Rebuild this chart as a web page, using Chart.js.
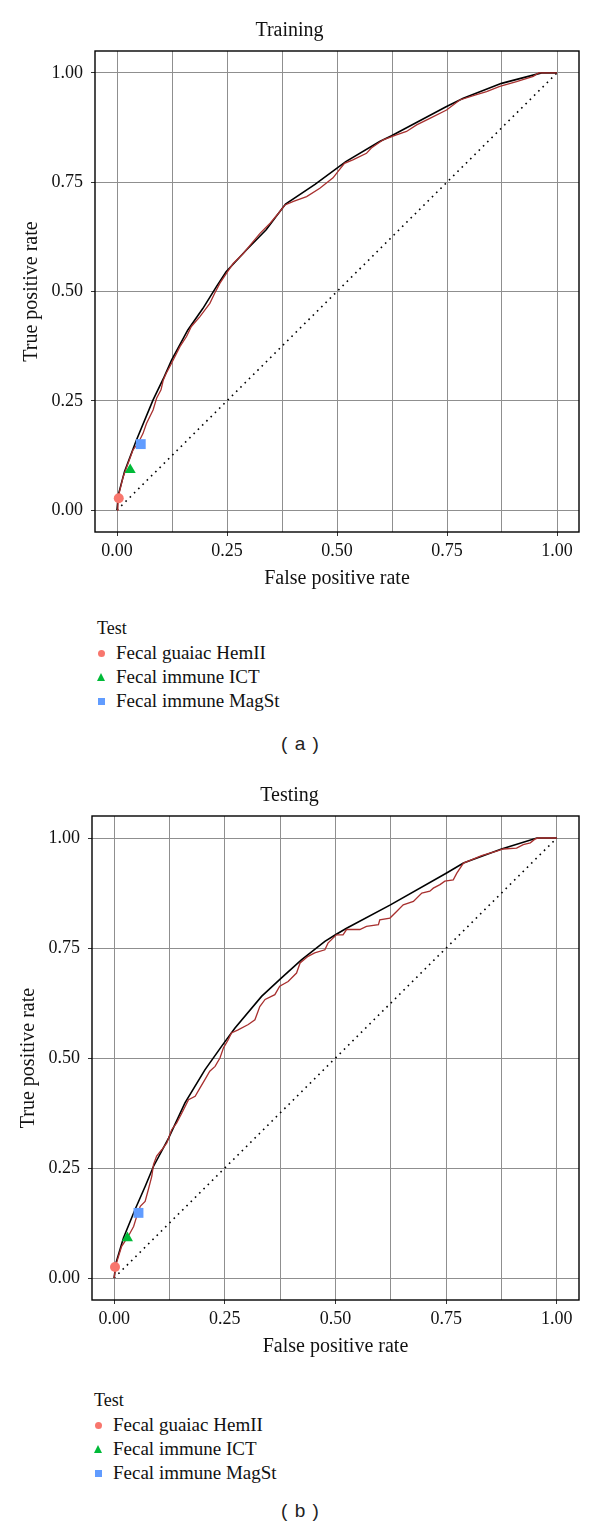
<!DOCTYPE html>
<html>
<head>
<meta charset="utf-8">
<script src="https://cdn.jsdelivr.net/npm/chart.js@4.4.1/dist/chart.umd.min.js"></script>
<style>
body{margin:0;background:#fff;width:600px;height:1538px;position:relative;overflow:hidden;font-family:"Liberation Serif",serif;color:#111;}
canvas{position:absolute;left:0;}
#chrtTrain{top:0;}
#chrtTest{top:765px;}
.legend{position:absolute;}
.legend .ttl{height:26px;line-height:26px;font-size:18px;margin-left:3px;}
.legend .row{display:flex;align-items:center;height:24px;line-height:24px;font-size:19px;}
.legend .sym{width:14px;margin-right:8px;display:flex;justify-content:center;align-items:center;}
.dot{width:7px;height:7px;border-radius:50%;background:#F8766D;}
.tri{width:0;height:0;border-left:4.5px solid transparent;border-right:4.5px solid transparent;border-bottom:8px solid #00BA38;}
.sq{width:7px;height:7px;background:#619CFF;}
.cap{position:absolute;left:0;width:600px;text-align:center;font-family:"Liberation Sans",sans-serif;font-size:19px;color:#222;word-spacing:2px;}
</style>
</head>
<body>
<canvas id="chrtTrain" width="600" height="600"></canvas>
<canvas id="chrtTest" width="600" height="603"></canvas>

<div class="legend" style="left:94px;top:615px">
  <div class="ttl">Test</div>
  <div class="row"><span class="sym"><i class="dot"></i></span><span>Fecal guaiac HemII</span></div>
  <div class="row"><span class="sym"><i class="tri"></i></span><span>Fecal immune ICT</span></div>
  <div class="row"><span class="sym"><i class="sq"></i></span><span>Fecal immune MagSt</span></div>
</div>
<div class="cap" style="top:733px">( a )</div>

<div class="legend" style="left:91px;top:1387px">
  <div class="ttl">Test</div>
  <div class="row"><span class="sym"><i class="dot"></i></span><span>Fecal guaiac HemII</span></div>
  <div class="row"><span class="sym"><i class="tri"></i></span><span>Fecal immune ICT</span></div>
  <div class="row"><span class="sym"><i class="sq"></i></span><span>Fecal immune MagSt</span></div>
</div>
<div class="cap" style="top:1500px">( b )</div>

<script>
// tick values
var xTicks = [0, 0.125, 0.25, 0.375, 0.5, 0.625, 0.75, 0.875, 1];
var yTicks = [0, 0.25, 0.5, 0.75, 1];

// test names
var testNames = ["Fecal guaiac HemII", "Fecal immune ICT", "Fecal immune MagSt"];

// Training - fitted curve (black)
var trainFitFpr = [0, 0.003, 0.017, 0.044, 0.082, 0.105, 0.124, 0.161, 0.195, 0.226, 0.248, 0.294, 0.339, 0.383, 0.45, 0.52, 0.597, 0.624, 0.749, 0.787, 0.874, 0.965, 1];
var trainFitTpr = [0, 0.035, 0.088, 0.16, 0.252, 0.30, 0.343, 0.412, 0.461, 0.511, 0.545, 0.595, 0.641, 0.70, 0.745, 0.797, 0.843, 0.856, 0.923, 0.942, 0.976, 1.0, 1.0];

// Training - empirical curve (red)
var trainEmpFpr = [0, 0.002, 0.014, 0.036, 0.048, 0.059, 0.067, 0.082, 0.09, 0.10, 0.105, 0.112, 0.124, 0.143, 0.158, 0.169, 0.188, 0.211, 0.222, 0.234, 0.249, 0.264, 0.287, 0.306, 0.325, 0.348, 0.367, 0.382, 0.401, 0.431, 0.461, 0.476, 0.491, 0.502, 0.517, 0.536, 0.567, 0.578, 0.605, 0.635, 0.658, 0.681, 0.711, 0.749, 0.779, 0.817, 0.84, 0.87, 0.908, 0.946, 0.958, 1];
var trainEmpTpr = [0, 0.027, 0.076, 0.137, 0.153, 0.175, 0.198, 0.229, 0.256, 0.275, 0.297, 0.313, 0.336, 0.374, 0.397, 0.42, 0.442, 0.473, 0.496, 0.519, 0.542, 0.564, 0.587, 0.61, 0.633, 0.656, 0.679, 0.698, 0.706, 0.717, 0.736, 0.748, 0.76, 0.774, 0.793, 0.801, 0.816, 0.828, 0.847, 0.858, 0.866, 0.881, 0.896, 0.915, 0.938, 0.95, 0.957, 0.969, 0.98, 0.992, 1.0, 1.0];

// Training - single tests
var trainTestFpr = [0.004, 0.03, 0.054];
var trainTestTpr = [0.027, 0.092, 0.151];

// Testing - fitted curve (black)
var testFitFpr = [0, 0.004, 0.021, 0.047, 0.07, 0.089, 0.123, 0.16, 0.205, 0.243, 0.273, 0.333, 0.378, 0.423, 0.476, 0.5, 0.525, 0.624, 0.75, 0.789, 0.875, 0.955, 1];
var testFitTpr = [0, 0.034, 0.091, 0.155, 0.208, 0.254, 0.318, 0.398, 0.473, 0.527, 0.568, 0.64, 0.682, 0.723, 0.765, 0.78, 0.795, 0.848, 0.92, 0.943, 0.975, 1.0, 1.0];

// Testing - empirical curve (red)
var testEmpFpr = [0, 0.004, 0.017, 0.032, 0.044, 0.051, 0.059, 0.07, 0.077, 0.085, 0.089, 0.096, 0.108, 0.119, 0.13, 0.141, 0.153, 0.168, 0.183, 0.194, 0.205, 0.216, 0.228, 0.239, 0.247, 0.258, 0.265, 0.28, 0.303, 0.318, 0.329, 0.341, 0.363, 0.374, 0.393, 0.412, 0.42, 0.438, 0.453, 0.476, 0.483, 0.495, 0.502, 0.517, 0.525, 0.555, 0.57, 0.597, 0.6, 0.623, 0.638, 0.653, 0.676, 0.695, 0.713, 0.721, 0.736, 0.747, 0.766, 0.774, 0.789, 0.811, 0.83, 0.864, 0.879, 0.909, 0.924, 0.94, 0.951, 0.958, 1];
var testEmpTpr = [0, 0.03, 0.072, 0.095, 0.117, 0.14, 0.163, 0.174, 0.2, 0.231, 0.258, 0.277, 0.292, 0.307, 0.337, 0.352, 0.375, 0.405, 0.413, 0.432, 0.451, 0.47, 0.481, 0.5, 0.523, 0.542, 0.557, 0.564, 0.576, 0.587, 0.617, 0.633, 0.644, 0.663, 0.674, 0.693, 0.716, 0.731, 0.739, 0.746, 0.761, 0.773, 0.78, 0.78, 0.792, 0.792, 0.799, 0.803, 0.814, 0.818, 0.833, 0.848, 0.856, 0.875, 0.879, 0.886, 0.894, 0.902, 0.905, 0.92, 0.943, 0.952, 0.96, 0.97, 0.975, 0.977, 0.985, 0.989, 0.998, 1.0, 1.0];

// Testing - single tests
var testTestFpr = [0.002, 0.03, 0.055];
var testTestTpr = [0.025, 0.091, 0.148];

Chart.defaults.font.family = '"Liberation Serif", serif';
Chart.defaults.color = '#111';

function toPoints(xs, ys) {
  var out = [];
  for (var i = 0; i < xs.length; i++) {
    out.push({x: xs[i], y: ys[i]});
  }
  return out;
}

function isMajor(v) {
  return Math.abs(v * 4 - Math.round(v * 4)) < 1e-9;
}

// black frame round the panel
var panelBox = {
  id: 'panelBox',
  afterDatasetsDraw: function(chart) {
    var a = chart.chartArea;
    var c = chart.ctx;
    c.save();
    c.strokeStyle = '#000';
    c.lineWidth = 1.4;
    c.strokeRect(a.left, a.top, a.right - a.left, a.bottom - a.top);
    c.restore();
  }
};

function rocChart(id, title, fitX, fitY, empX, empY, ptX, ptY, yWidth, yTitlePad) {
  var ctx = document.getElementById(id).getContext('2d');
  return new Chart(ctx, {
    type: 'scatter',
    data: {
      datasets: [
        {
          label: 'Chance',
          data: toPoints([0, 1], [0, 1]),
          showLine: true,
          borderColor: '#000',
          borderWidth: 1.6,
          borderDash: [1.6, 4.4],
          pointRadius: 0,
          order: 4
        },
        {
          label: 'Fitted',
          data: toPoints(fitX, fitY),
          showLine: true,
          borderColor: '#000',
          borderWidth: 1.6,
          pointRadius: 0,
          order: 3
        },
        {
          label: 'Empirical',
          data: toPoints(empX, empY),
          showLine: true,
          borderColor: '#a8302f',
          borderWidth: 1.3,
          pointRadius: 0,
          order: 2
        },
        {
          label: testNames[0],
          data: [{x: ptX[0], y: ptY[0]}],
          pointStyle: 'circle',
          pointRadius: 5,
          backgroundColor: '#F8766D',
          borderWidth: 0,
          order: 1
        },
        {
          label: testNames[1],
          data: [{x: ptX[1], y: ptY[1]}],
          pointStyle: 'triangle',
          pointRadius: 6.4,
          backgroundColor: '#00BA38',
          borderWidth: 0,
          order: 1
        },
        {
          label: testNames[2],
          data: [{x: ptX[2], y: ptY[2]}],
          pointStyle: 'rect',
          pointRadius: 7,
          backgroundColor: '#619CFF',
          borderWidth: 0,
          order: 1
        }
      ]
    },
    options: {
      responsive: false,
      animation: false,
      devicePixelRatio: 1,
      layout: {padding: {left: 0, right: 21, top: 0, bottom: 4}},
      plugins: {
        legend: {display: false},
        tooltip: {enabled: false},
        title: {
          display: true,
          text: title,
          color: '#111',
          font: {size: 20, weight: 'normal'},
          padding: {top: 19, bottom: 8}
        }
      },
      scales: {
        x: {
          type: 'linear',
          min: -0.05,
          max: 1.05,
          afterBuildTicks: function(s) {
            s.ticks = xTicks.map(function(v) { return {value: v}; });
          },
          afterFit: function(s) { s.height = 64; },
          ticks: {
            autoSkip: false,
            maxRotation: 0,
            padding: 4,
            color: '#111',
            font: {size: 18},
            callback: function(v) { return isMajor(v) ? v.toFixed(2) : ''; }
          },
          grid: {
            color: '#8f8f8f',
            lineWidth: 1,
            tickLength: 4,
            tickColor: function(c) {
              return (c.tick && isMajor(c.tick.value)) ? '#333' : 'rgba(0,0,0,0)';
            }
          },
          border: {display: false},
          title: {
            display: true,
            text: 'False positive rate',
            color: '#111',
            font: {size: 20},
            padding: {top: 4, bottom: 5}
          }
        },
        y: {
          type: 'linear',
          min: -0.05,
          max: 1.05,
          afterBuildTicks: function(s) {
            s.ticks = yTicks.map(function(v) { return {value: v}; });
          },
          afterFit: function(s) { s.width = yWidth; },
          ticks: {
            padding: 8,
            color: '#111',
            font: {size: 18},
            callback: function(v) { return v.toFixed(2); }
          },
          grid: {
            color: '#8f8f8f',
            lineWidth: 1,
            tickLength: 4,
            tickColor: '#333'
          },
          border: {display: false},
          title: {
            display: true,
            text: 'True positive rate',
            color: '#111',
            font: {size: 20},
            padding: {top: yTitlePad, bottom: 0}
          }
        }
      }
    },
    plugins: [panelBox]
  });
}

var trainChart = rocChart('chrtTrain', 'Training', trainFitFpr, trainFitTpr, trainEmpFpr, trainEmpTpr, trainTestFpr, trainTestTpr, 95, 20);
var testChart = rocChart('chrtTest', 'Testing', testFitFpr, testFitTpr, testEmpFpr, testEmpTpr, testTestFpr, testTestTpr, 92, 17);
</script>
</body>
</html>
